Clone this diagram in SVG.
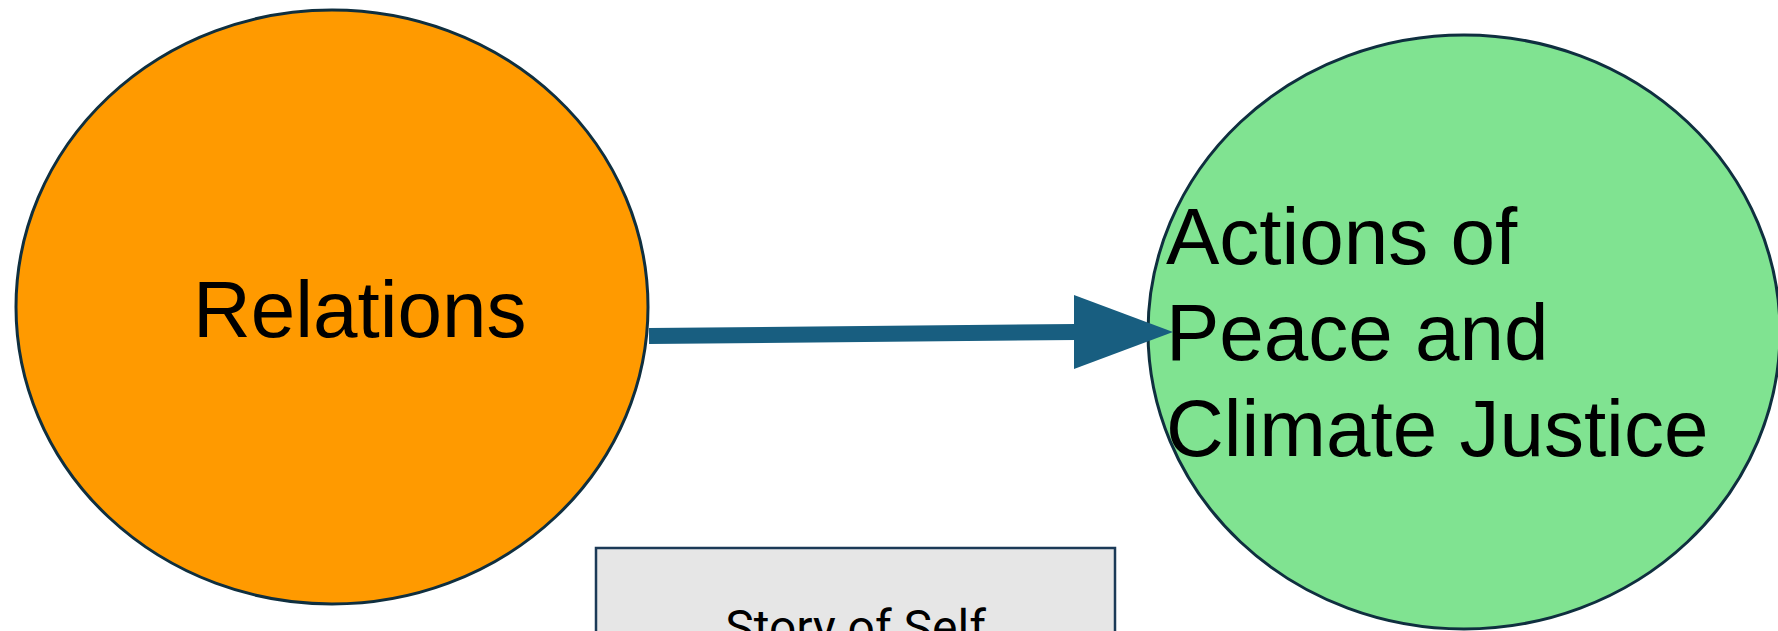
<svg xmlns="http://www.w3.org/2000/svg" width="1778" height="631" viewBox="0 0 1778 631">
  <style>
    .node { stroke: #0f2f3f; stroke-width: 3; }
    .label { font-family: "Liberation Sans", Arial, sans-serif; fill: #000; }
    .big { font-size: 80px; }
    .box { fill: #e6e6e6; stroke: #1b3a57; stroke-width: 2.5; }
    .small { font-size: 48px; font-family: Roboto, "Liberation Sans", sans-serif; }
    .conn { stroke: #185e80; stroke-width: 16; fill: none; }
  </style>
  <rect width="1778" height="631" fill="#ffffff"/>

  <g id="relations">
    <ellipse class="node" cx="332" cy="307" rx="316" ry="297" fill="#ff9a00"/>
    <text class="label big" x="193" y="337">Relations</text>
  </g>

  <g id="actions">
    <ellipse class="node" cx="1464" cy="332" rx="316" ry="297" fill="#80e391"/>
    <text class="label big" x="1166">
      <tspan x="1166" y="264">Actions of</tspan>
      <tspan x="1166" y="360">Peace and</tspan>
      <tspan x="1166" y="456">Climate Justice</tspan>
    </text>
  </g>

  <g id="story-of-self">
    <rect class="box" x="596" y="548" width="519" height="100"/>
    <text class="label small" x="855.5" y="644" text-anchor="middle">Story of Self</text>
  </g>

  <g id="connectors">
    <line class="conn" x1="649" y1="336" x2="1076" y2="332"/>
    <polygon points="1074,295 1173,332 1074,369" fill="#185e80"/>
  </g>
</svg>
